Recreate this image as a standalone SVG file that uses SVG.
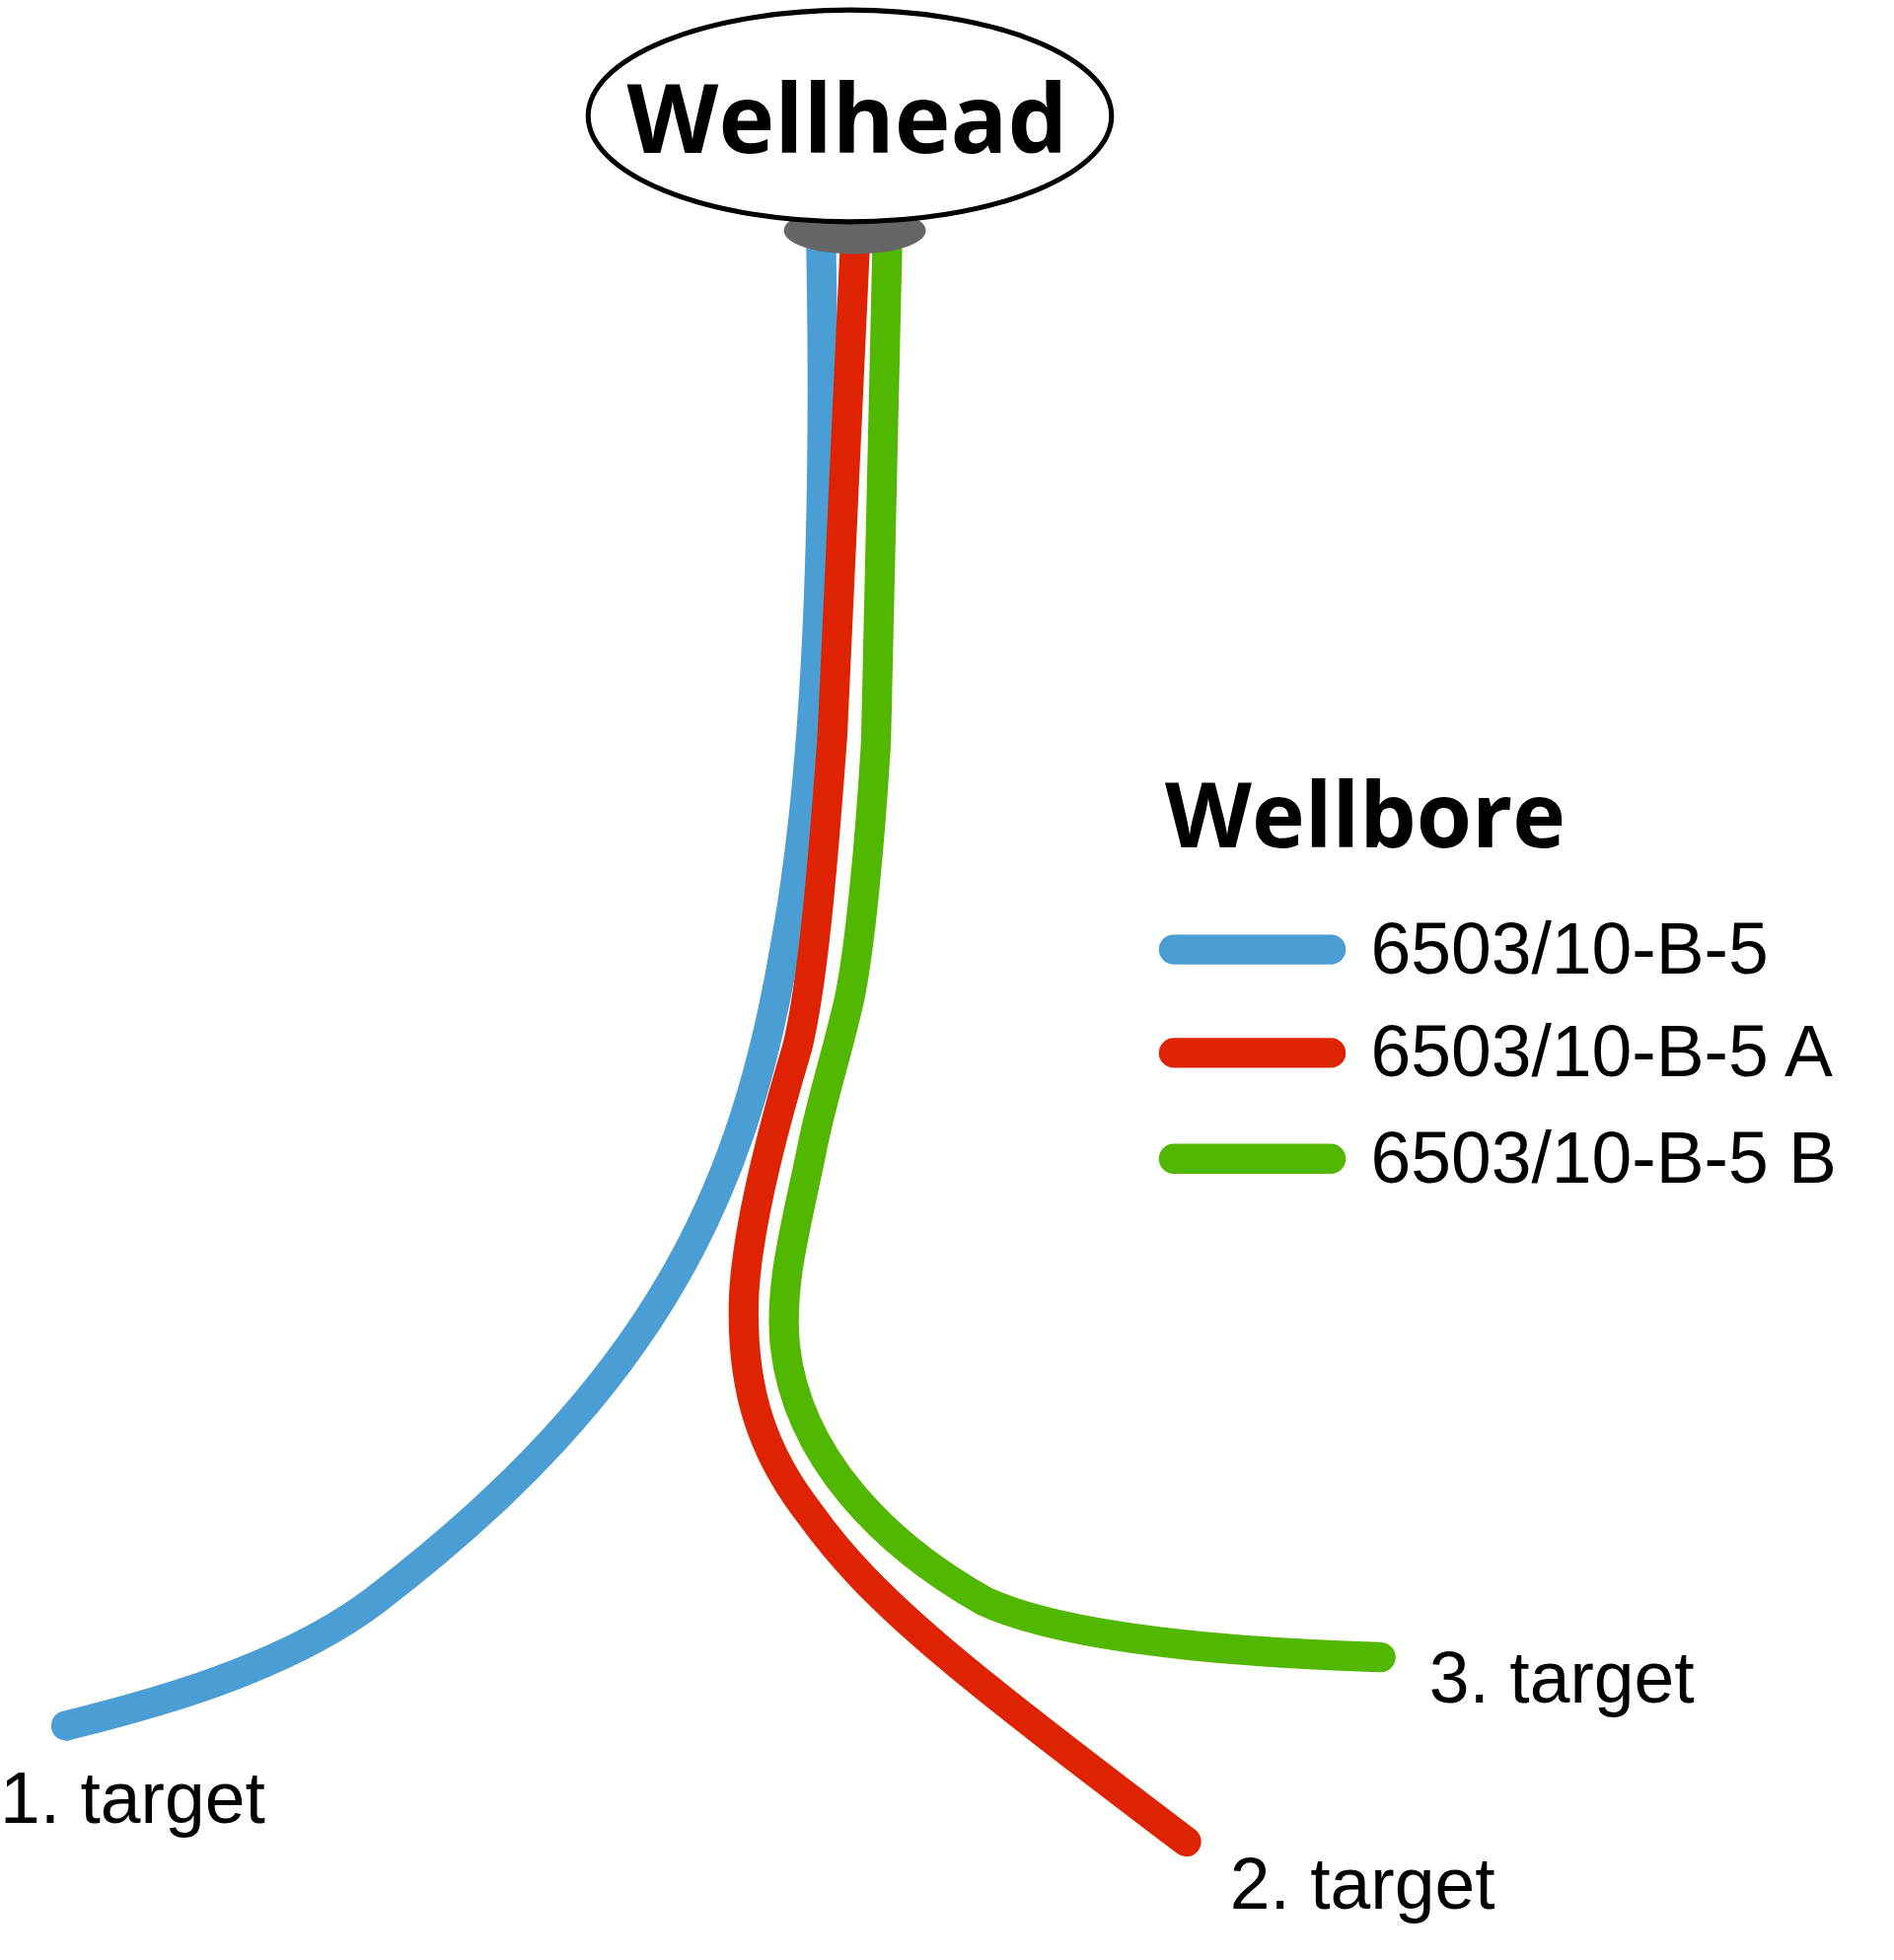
<svg xmlns="http://www.w3.org/2000/svg" width="1920" height="1987" viewBox="0 0 1920 1987">
<style>
.bore{fill:none;stroke-width:24;stroke-linecap:round;stroke-linejoin:round}
.lbl{font-family:"Liberation Sans",Arial,sans-serif;font-size:58px;fill:#000}
.b{stroke:#4A9ED4}.r{stroke:#DE2303}.g{stroke:#52B700}
</style>
<rect width="1920" height="1987" fill="#fff"/>
<g transform="scale(1.2632)">
<g id="connectors">
<path class="bore b" d="M659,200 C663,420 656,620 630,760 C598,950 530,1110 300,1285 C220,1345 100,1373 53,1385"/>
<path class="bore r" d="M686,200 L668,590 C660,700 652,790 640,840 C622,900 600,980 597,1040 C594,1120 615,1170 650,1215 C700,1285 770,1340 952,1478"/>
<path class="bore g" d="M712,200 L703,595 C698,680 690,760 682,800 C672,845 660,880 652,920 C640,980 625,1030 630,1080 C640,1170 710,1240 790,1285 C870,1322 1050,1328 1108,1330"/>
</g>
<g id="wellhead">
<ellipse cx="686" cy="185" rx="57" ry="19" fill="#666"/>
<ellipse cx="682" cy="93" rx="210" ry="85" fill="#fff" stroke="#000" stroke-width="4"/>
<text x="680" y="123" text-anchor="middle" font-family="'Open Sans','Liberation Sans',sans-serif" font-weight="bold" font-size="76">Wellhead</text>
</g>
<g id="legend">
<text x="935" y="680" font-family="'Open Sans','Liberation Sans',sans-serif" font-weight="bold" font-size="72">Wellbore</text>
<line class="bore b" x1="942" y1="762" x2="1068" y2="762"/>
<line class="bore r" x1="942" y1="845" x2="1068" y2="845"/>
<line class="bore g" x1="942" y1="930" x2="1068" y2="930"/>
<text class="lbl" x="1100" y="781">6503/10-B-5</text>
<text class="lbl" x="1100" y="864">6503/10-B-5 A</text>
<text class="lbl" x="1100" y="949">6503/10-B-5 B</text>
</g>
<g id="targets">
<text class="lbl" x="0" y="1463">1. target</text>
<text class="lbl" x="987" y="1532">2. target</text>
<text class="lbl" x="1147" y="1366">3. target</text>
</g>
</g>
</svg>
